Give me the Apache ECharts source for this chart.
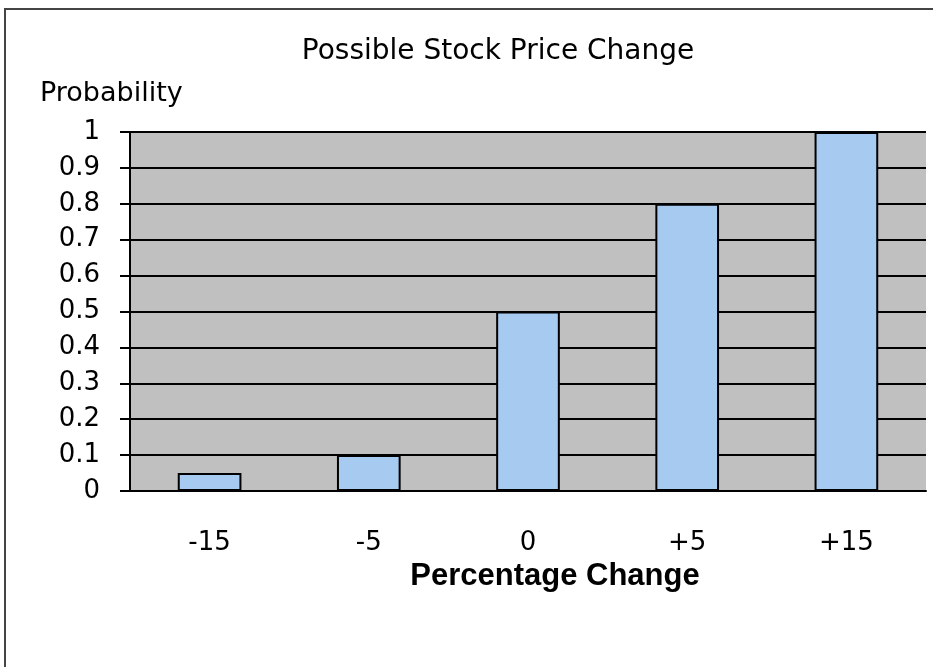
<!DOCTYPE html>
<html>
<head>
<meta charset="utf-8">
<script src="https://cdn.jsdelivr.net/npm/echarts@6/dist/echarts.min.js"></script>
<style>
  html, body { margin: 0; padding: 0; background: #fff; overflow: hidden; }
  #chart { width: 933px; height: 667px; }
</style>
</head>
<body>
<div id="chart"></div>
<script>
// possible percentage changes and their probabilities
const changes = ['-15', '-5', '0', '+5', '+15']
const probabilities = [0.05, 0.1, 0.5, 0.8, 1]

const chart = echarts.init(document.getElementById('chart'))

chart.setOption({
  animation: false,
  backgroundColor: '#fff',
  title: [
    {
      text: 'Possible Stock Price Change',
      left: 498, top: 38, textAlign: 'center', padding: 0,
      textStyle: { fontFamily: 'DejaVu Sans', fontSize: 28, fontWeight: 'normal', color: '#000' },
    },
    {
      text: 'Probability',
      left: 40, top: 80, padding: 0,
      textStyle: { fontFamily: 'DejaVu Sans', fontSize: 27, fontWeight: 'normal', color: '#000' },
    },
  ],
  graphic: [
    {
      type: 'rect', silent: true,
      shape: { x: 5, y: 9, width: 1000, height: 1000 },
      style: { fill: 'none', stroke: '#444', lineWidth: 2 },
    },
  ],
  grid: { left: 130, right: 7, top: 132, bottom: 176, backgroundColor: '#c0c0c0', show: true, borderWidth: 0 },
  xAxis: {
    type: 'category',
    data: changes,
    name: 'Percentage Change',
    nameLocation: 'middle',
    nameGap: 62,
    nameTextStyle: {
      fontFamily: 'Liberation Sans', fontSize: 31, fontWeight: 'bold', color: '#000',
      padding: [0, 0, 0, 54],
    },
    axisLine: { lineStyle: { color: '#000', width: 2 } },
    axisTick: { length: 10, lineStyle: { color: '#000', width: 2 } },
    axisLabel: { fontFamily: 'DejaVu Sans', fontSize: 26, color: '#000', margin: 39 },
  },
  yAxis: {
    type: 'value',
    min: 0, max: 1, interval: 0.1,
    axisLine: { show: true, lineStyle: { color: '#000', width: 2 } },
    axisTick: { show: true, length: 10, lineStyle: { color: '#000', width: 2 } },
    axisLabel: { fontFamily: 'DejaVu Sans', fontSize: 26, color: '#000', margin: 30 },
    splitLine: { lineStyle: { color: '#000', width: 2 } },
  },
  series: [
    {
      type: 'bar',
      data: probabilities,
      barWidth: '40%',
      itemStyle: { color: '#a6caf0', borderColor: '#000', borderWidth: 2 },
    },
  ],
})
</script>
</body>
</html>
